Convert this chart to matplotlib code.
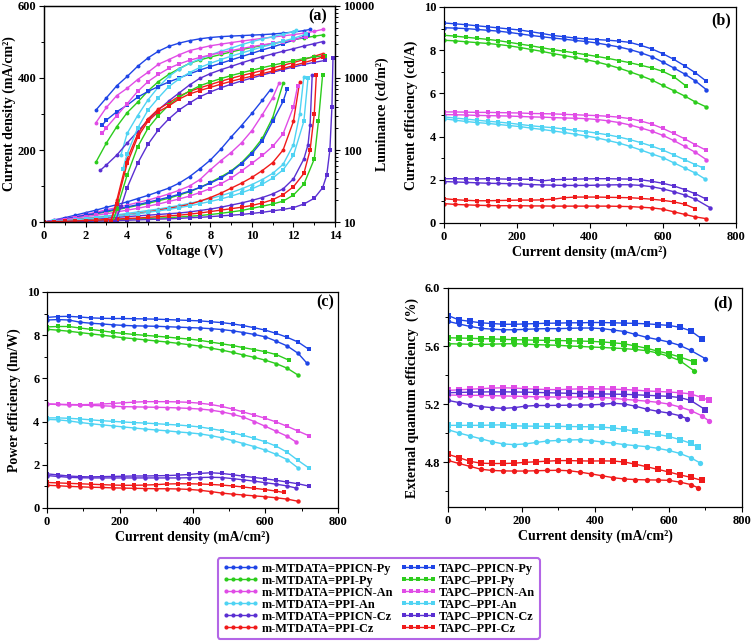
import matplotlib
matplotlib.use("Agg")
import matplotlib.pyplot as plt
from matplotlib.lines import Line2D
from matplotlib.ticker import MultipleLocator, NullFormatter, LogLocator

plt.rcParams['font.family'] = ['Liberation Serif', 'DejaVu Serif']
plt.rcParams['font.weight'] = 'bold'
plt.rcParams['axes.labelweight'] = 'bold'

# ---- series ----
SERIES = ["m-MTDATA=PPICN-Py", "m-MTDATA=PPI-Py", "m-MTDATA=PPICN-An",
          "m-MTDATA=PPI-An", "m-MTDATA=PPICN-Cz", "m-MTDATA=PPI-Cz",
          "TAPC\u2013PPICN-Py", "TAPC\u2013PPI-Py", "TAPC\u2013PPICN-An",
          "TAPC\u2013PPI-An", "TAPC\u2013PPICN-Cz", "TAPC\u2013PPI-Cz"]
COLORS = ['#1f45e6', '#2ccc1c', '#e04ce6', '#4fd3f3', '#5a2fd2', '#f01a1a'] * 2
MARKERS = ['o'] * 6 + ['s'] * 6

# ---- (a) J-V-L ----
VOLT = [0, 0.5, 1, 1.5, 2, 2.5, 3, 3.5, 4, 4.5, 5, 5.5, 6, 6.5, 7, 7.5, 8, 8.5,
        9, 9.5, 10, 10.5, 11, 11.5, 12, 12.5, 13, 13.5, 14]

J_V = [VOLT[:22] + [10.9], VOLT[:24], VOLT[:23] + [11.3], VOLT[:25] + [12.3, 12.5],
       VOLT[:26] + [12.7, 12.8, 12.9], VOLT[:25] + [12.3],
       VOLT[:24] + [11.7], VOLT[:27] + [13.2, 13.4], VOLT[:25] + [12.2],
       VOLT[:26] + [12.7], VOLT[:27] + [13.4, 13.6, 13.75, 13.85, 13.9],
       VOLT[:26] + [12.8, 13, 13.1]]
J_VAL = [
    [0, 6, 12, 19, 26, 33, 41, 48, 56, 65, 74, 84, 94, 108, 126, 148, 172, 202, 236, 268, 302, 338, 368],
    [0, 4, 8, 13, 18, 23, 28, 34, 40, 46, 52, 59, 66, 75, 84, 96, 110, 125, 142, 165, 195, 232, 290, 385],
    [0, 5, 10, 15, 21, 27, 34, 40, 47, 54, 61, 69, 78, 88, 100, 118, 145, 170, 193, 220, 254, 298, 345, 385],
    [0, 2, 5, 8, 11, 14, 17, 20, 24, 28, 32, 36, 41, 46, 52, 58, 65, 73, 82, 92, 104, 118, 135, 160, 215, 300, 404],
    [0, 1.5, 3, 5, 7, 9, 11, 13, 15, 17, 19, 21, 23, 25, 28, 32, 36, 41, 47, 53, 60, 68, 78, 92, 120, 175, 215, 270, 408],
    [0, 2, 4, 6, 9, 11, 14, 17, 20, 24, 28, 33, 38, 43, 49, 58, 68, 80, 94, 108, 124, 143, 165, 200, 280, 390],
    [0, 4, 9, 14, 19, 24, 30, 36, 42, 48, 55, 62, 69, 77, 86, 96, 108, 122, 140, 162, 190, 225, 280, 335, 370],
    [0, 1, 2, 3, 4, 5, 6, 7, 8, 9, 10, 11, 12, 14, 16, 18, 21, 24, 28, 32, 38, 44, 50, 58, 75, 105, 175, 280, 408],
    [0, 3, 7, 11, 15, 19, 23, 28, 33, 38, 44, 50, 57, 64, 72, 82, 93, 106, 122, 142, 163, 185, 210, 245, 320, 378],
    [0, 2, 4, 6, 9, 11, 14, 17, 20, 23, 27, 31, 35, 40, 45, 51, 57, 64, 72, 81, 92, 105, 122, 145, 185, 280, 401],
    [0, 0.5, 1, 1.5, 2, 2.5, 3, 4, 5, 6, 7, 8, 9, 10, 12, 13, 15, 17, 19, 21, 24, 27, 31, 35, 40, 50, 66, 95, 130, 200, 320, 455],
    [0, 1, 2, 3, 4, 5, 7, 8, 10, 11, 13, 15, 17, 19, 22, 25, 29, 33, 37, 41, 46, 53, 62, 76, 98, 135, 200, 300, 408],
]

L_V = [VOLT[5:26] + [12.8], VOLT[5:27] + [13.4], VOLT[5:27] + [13.4],
       [3.7] + VOLT[8:25] + [12.1], [2.7] + VOLT[6:27] + [13.4], [3.2] + VOLT[7:27] + [13.4],
       [2.8] + VOLT[6:26] + [12.7], [3.3] + VOLT[7:28], [2.8] + VOLT[6:25] + [12.6],
       [3.8] + VOLT[8:25] + [12.6], [3.4, 3.7] + VOLT[8:28], [3.2] + VOLT[7:27] + [13.4]]
L_VAL = [
    [359, 530, 780, 1050, 1450, 1900, 2350, 2750, 3050, 3300, 3500, 3650, 3750, 3820, 3880, 3940, 4000, 4080, 4200, 4350, 4550, 4730],
    [68, 125, 211, 330, 460, 660, 890, 1120, 1350, 1600, 1780, 1950, 2120, 2300, 2480, 2650, 2830, 3000, 3200, 3400, 3600, 3800, 3960],
    [240, 390, 570, 720, 950, 1200, 1550, 1800, 2100, 2400, 2600, 2800, 2950, 3100, 3250, 3400, 3550, 3700, 3850, 4000, 4200, 4450, 4730],
    [85, 170, 300, 495, 750, 1050, 1330, 1600, 1840, 2090, 2350, 2600, 2900, 3200, 3480, 3760, 4050, 4420, 4620],
    [52, 62, 85, 125, 180, 260, 360, 480, 620, 800, 990, 1150, 1300, 1450, 1620, 1800, 1980, 2160, 2350, 2550, 2780, 3000, 3200],
    [10, 20, 75, 165, 270, 370, 450, 560, 650, 730, 810, 900, 990, 1080, 1170, 1270, 1380, 1500, 1640, 1800, 2000, 2180],
    [221, 260, 340, 420, 540, 650, 760, 880, 1000, 1140, 1290, 1440, 1600, 1780, 1980, 2200, 2450, 2700, 3000, 3350, 3750, 3900],
    [10, 15, 45, 110, 200, 300, 420, 540, 660, 780, 880, 980, 1080, 1180, 1280, 1390, 1500, 1620, 1740, 1860, 1960, 2050],
    [170, 205, 300, 440, 650, 890, 1120, 1360, 1570, 1760, 1930, 2090, 2250, 2400, 2560, 2720, 2880, 3040, 3200, 3390, 3750],
    [55, 89, 200, 358, 530, 760, 970, 1190, 1400, 1600, 1800, 2010, 2220, 2450, 2700, 2950, 3250, 3550, 4070],
    [10, 16, 30, 65, 120, 190, 270, 360, 450, 550, 640, 730, 820, 910, 1000, 1100, 1200, 1310, 1420, 1540, 1650, 1750],
    [10, 18, 65, 150, 250, 340, 410, 510, 600, 670, 740, 820, 900, 980, 1060, 1150, 1250, 1360, 1490, 1630, 1800, 1960],
]

# ---- (b) (c) (d) vs current density ----
CD = [0, 30, 60, 90, 120, 150, 180, 210, 240, 270, 300, 330, 360, 390, 420, 450,
      480, 510, 540, 570, 600, 630, 660, 690, 720]

CE_END = [720, 720, 720, 715, 730, 720, 720, 665, 720, 710, 720, 690]
CE = [
    [9.04, 9.02, 9.0, 8.96, 8.92, 8.88, 8.82, 8.75, 8.68, 8.62, 8.56, 8.51, 8.45, 8.4, 8.33, 8.24, 8.15, 8.03, 7.88, 7.7, 7.45, 7.18, 6.9, 6.57, 6.17],
    [8.46, 8.43, 8.39, 8.35, 8.31, 8.26, 8.2, 8.12, 8.03, 7.94, 7.84, 7.75, 7.66, 7.56, 7.45, 7.32, 7.17, 7.0, 6.82, 6.62, 6.37, 6.13, 5.88, 5.6, 5.37],
    [5.02, 5.01, 5.0, 4.98, 4.97, 4.96, 4.95, 4.93, 4.91, 4.9, 4.88, 4.86, 4.85, 4.83, 4.79, 4.73, 4.65, 4.54, 4.4, 4.25, 4.06, 3.82, 3.55, 3.27, 2.93],
    [4.83, 4.76, 4.7, 4.65, 4.61, 4.56, 4.51, 4.46, 4.39, 4.33, 4.26, 4.19, 4.11, 4.03, 3.94, 3.82, 3.7, 3.55, 3.38, 3.2, 3.03, 2.79, 2.55, 2.31, 2.05],
    [1.92, 1.9, 1.88, 1.86, 1.84, 1.83, 1.82, 1.81, 1.78, 1.76, 1.75, 1.74, 1.74, 1.74, 1.75, 1.76, 1.77, 1.77, 1.74, 1.68, 1.58, 1.45, 1.3, 1.1, 0.71],
    [0.9, 0.86, 0.84, 0.82, 0.81, 0.8, 0.8, 0.8, 0.79, 0.79, 0.78, 0.78, 0.78, 0.78, 0.78, 0.78, 0.77, 0.76, 0.73, 0.7, 0.64, 0.52, 0.4, 0.28, 0.2],
    [9.26, 9.22, 9.18, 9.13, 9.08, 9.03, 8.98, 8.93, 8.85, 8.77, 8.68, 8.62, 8.56, 8.52, 8.49, 8.46, 8.42, 8.36, 8.22, 8.06, 7.84, 7.58, 7.28, 6.95, 6.56],
    [8.69, 8.65, 8.6, 8.55, 8.5, 8.44, 8.36, 8.28, 8.2, 8.11, 8.02, 7.95, 7.87, 7.79, 7.71, 7.62, 7.52, 7.42, 7.3, 7.18, 7.02, 6.78, 6.33],
    [5.14, 5.14, 5.13, 5.12, 5.12, 5.11, 5.1, 5.09, 5.07, 5.06, 5.05, 5.03, 5.01, 4.99, 4.97, 4.94, 4.9, 4.83, 4.72, 4.58, 4.38, 4.15, 3.9, 3.62, 3.36],
    [4.91, 4.86, 4.81, 4.76, 4.71, 4.67, 4.62, 4.56, 4.5, 4.45, 4.41, 4.35, 4.29, 4.23, 4.16, 4.08, 3.98, 3.86, 3.72, 3.56, 3.38, 3.16, 2.93, 2.7, 2.56],
    [2.05, 2.05, 2.04, 2.04, 2.05, 2.04, 2.03, 2.03, 2.02, 1.95, 2.0, 2.02, 2.03, 2.04, 2.05, 2.05, 2.04, 2.03, 2.0, 1.93, 1.84, 1.72, 1.55, 1.35, 1.10],
    [1.13, 1.08, 1.05, 1.03, 1.03, 1.04, 1.05, 1.06, 1.06, 1.07, 1.1, 1.17, 1.2, 1.2, 1.2, 1.19, 1.18, 1.17, 1.14, 1.1, 1.05, 0.98, 0.87, 0.66],
]

PE_END = [715, 690, 685, 690, 685, 690, 720, 665, 720, 720, 720, 650]
PE = [
    [8.7, 8.72, 8.7, 8.6, 8.55, 8.52, 8.48, 8.45, 8.43, 8.42, 8.41, 8.39, 8.37, 8.35, 8.33, 8.3, 8.26, 8.2, 8.12, 8.03, 7.92, 7.72, 7.5, 7.16, 6.69],
    [8.27, 8.23, 8.18, 8.12, 8.06, 8.0, 7.94, 7.88, 7.83, 7.78, 7.73, 7.68, 7.62, 7.56, 7.49, 7.4, 7.31, 7.2, 7.08, 6.97, 6.84, 6.68, 6.47, 6.15],
    [4.81, 4.79, 4.77, 4.76, 4.75, 4.73, 4.71, 4.69, 4.68, 4.67, 4.66, 4.65, 4.63, 4.61, 4.58, 4.53, 4.45, 4.34, 4.2, 4.0, 3.78, 3.55, 3.32, 3.05],
    [4.1, 4.08, 4.03, 3.96, 3.9, 3.85, 3.8, 3.75, 3.7, 3.65, 3.61, 3.57, 3.52, 3.48, 3.43, 3.35, 3.25, 3.12, 2.98, 2.84, 2.68, 2.48, 2.24, 1.85],
    [1.5, 1.46, 1.42, 1.4, 1.39, 1.39, 1.39, 1.39, 1.39, 1.39, 1.39, 1.39, 1.39, 1.4, 1.41, 1.42, 1.41, 1.36, 1.3, 1.24, 1.17, 1.1, 1.02, 0.92],
    [1.05, 1.03, 1.0, 0.98, 0.96, 0.95, 0.93, 0.92, 0.91, 0.9, 0.89, 0.89, 0.88, 0.86, 0.82, 0.76, 0.69, 0.64, 0.6, 0.56, 0.52, 0.47, 0.41, 0.31],
    [8.82, 8.86, 8.87, 8.84, 8.8, 8.78, 8.77, 8.77, 8.76, 8.75, 8.74, 8.72, 8.7, 8.68, 8.66, 8.62, 8.58, 8.52, 8.44, 8.34, 8.23, 8.08, 7.9, 7.68, 7.34],
    [8.38, 8.4, 8.4, 8.33, 8.27, 8.2, 8.13, 8.08, 8.03, 7.99, 7.95, 7.91, 7.86, 7.82, 7.76, 7.68, 7.6, 7.52, 7.42, 7.33, 7.23, 7.1, 6.84],
    [4.82, 4.8, 4.79, 4.78, 4.79, 4.81, 4.84, 4.87, 4.9, 4.92, 4.92, 4.92, 4.91, 4.89, 4.85, 4.79, 4.7, 4.58, 4.44, 4.3, 4.15, 3.98, 3.78, 3.56, 3.34],
    [4.17, 4.17, 4.15, 4.12, 4.08, 4.04, 4.01, 3.98, 3.95, 3.93, 3.9, 3.87, 3.84, 3.8, 3.75, 3.67, 3.58, 3.48, 3.36, 3.22, 3.06, 2.86, 2.58, 2.2, 1.85],
    [1.58, 1.53, 1.48, 1.45, 1.44, 1.45, 1.46, 1.47, 1.48, 1.48, 1.49, 1.5, 1.52, 1.55, 1.6, 1.63, 1.6, 1.54, 1.47, 1.41, 1.35, 1.28, 1.2, 1.12, 1.01],
    [1.18, 1.16, 1.14, 1.12, 1.1, 1.08, 1.06, 1.05, 1.05, 1.06, 1.08, 1.11, 1.12, 1.12, 1.11, 1.09, 1.06, 1.02, 0.97, 0.91, 0.85, 0.78, 0.72],
]

EQE_END = [700, 670, 710, 685, 650, 680, 690, 670, 710, 680, 700, 690]
EQE = [
    [5.77, 5.752, 5.735, 5.722, 5.716, 5.712, 5.712, 5.715, 5.718, 5.72, 5.72, 5.722, 5.724, 5.724, 5.72, 5.71, 5.7, 5.68, 5.66, 5.645, 5.628, 5.605, 5.57, 5.513],
    [5.616, 5.614, 5.612, 5.611, 5.613, 5.615, 5.616, 5.613, 5.61, 5.607, 5.605, 5.6, 5.597, 5.593, 5.59, 5.586, 5.582, 5.576, 5.568, 5.552, 5.53, 5.5, 5.428],
    [5.262, 5.261, 5.26, 5.26, 5.258, 5.256, 5.254, 5.252, 5.25, 5.249, 5.248, 5.248, 5.248, 5.248, 5.245, 5.24, 5.232, 5.226, 5.22, 5.212, 5.2, 5.18, 5.155, 5.12, 5.083],
    [5.023, 5.0, 4.98, 4.96, 4.94, 4.925, 4.92, 4.925, 4.935, 4.945, 4.949, 4.952, 4.954, 4.948, 4.938, 4.93, 4.92, 4.913, 4.906, 4.895, 4.88, 4.86, 4.83, 4.795],
    [5.225, 5.21, 5.195, 5.182, 5.175, 5.17, 5.175, 5.185, 5.19, 5.19, 5.191, 5.192, 5.193, 5.194, 5.198, 5.205, 5.2, 5.185, 5.165, 5.15, 5.138, 5.12, 5.099],
    [4.811, 4.79, 4.77, 4.75, 4.742, 4.739, 4.738, 4.738, 4.74, 4.742, 4.743, 4.74, 4.73, 4.718, 4.705, 4.692, 4.683, 4.679, 4.677, 4.676, 4.674, 4.662, 4.645, 4.623],
    [5.81, 5.78, 5.77, 5.76, 5.755, 5.75, 5.75, 5.752, 5.755, 5.757, 5.758, 5.76, 5.76, 5.762, 5.762, 5.76, 5.758, 5.756, 5.753, 5.748, 5.742, 5.73, 5.705, 5.65],
    [5.657, 5.655, 5.653, 5.651, 5.649, 5.646, 5.644, 5.642, 5.64, 5.639, 5.638, 5.636, 5.634, 5.632, 5.628, 5.622, 5.615, 5.6, 5.585, 5.565, 5.547, 5.525, 5.49],
    [5.294, 5.298, 5.302, 5.306, 5.31, 5.312, 5.31, 5.306, 5.302, 5.3, 5.299, 5.302, 5.305, 5.306, 5.304, 5.302, 5.3, 5.296, 5.29, 5.287, 5.283, 5.278, 5.27, 5.245, 5.225],
    [5.053, 5.053, 5.053, 5.053, 5.055, 5.057, 5.05, 5.048, 5.047, 5.046, 5.046, 5.045, 5.044, 5.043, 5.04, 5.035, 5.025, 5.012, 5.0, 4.99, 4.977, 4.955, 4.93, 4.903],
    [5.278, 5.28, 5.282, 5.283, 5.284, 5.284, 5.283, 5.282, 5.28, 5.278, 5.276, 5.274, 5.272, 5.271, 5.27, 5.268, 5.267, 5.264, 5.26, 5.257, 5.253, 5.245, 5.225, 5.161],
    [4.853, 4.83, 4.805, 4.792, 4.79, 4.79, 4.792, 4.798, 4.802, 4.806, 4.81, 4.81, 4.808, 4.807, 4.808, 4.807, 4.8, 4.785, 4.768, 4.75, 4.732, 4.712, 4.695, 4.674],
]

LABEL_FS = 10
TICK_FS = 9


def style(ax):
    ax.tick_params(which='major', direction='out', length=3.5, width=0.8, labelsize=TICK_FS, pad=2)
    ax.tick_params(which='minor', direction='out', length=2, width=0.7)
    for s in ax.spines.values():
        s.set_linewidth(0.9)


def cd_panel(ax, data, ends, ms):
    for i, vals in enumerate(data):
        x = CD[:len(vals) - 1] + [ends[i]]
        ax.plot(x, vals, color=COLORS[i], marker=MARKERS[i], ms=ms, lw=1.0,
                markeredgewidth=0)
    ax.set_xlim(0, 800)
    ax.xaxis.set_major_locator(MultipleLocator(200))
    ax.xaxis.set_minor_locator(MultipleLocator(100))
    ax.set_xlabel('Current density (mA/cm\u00b2)', fontsize=LABEL_FS, labelpad=2)
    style(ax)


fig = plt.figure(figsize=(7.56, 6.43), dpi=100)

# (a)
ax_a = fig.add_axes([0.0582, 0.6547, 0.385, 0.336])
ax_l = ax_a.twinx()
for i in range(12):
    ax_a.plot(J_V[i], J_VAL[i], color=COLORS[i], marker=MARKERS[i], ms=2.8, lw=1.0,
              markeredgewidth=0)
    ax_l.plot(L_V[i], L_VAL[i], color=COLORS[i], marker=MARKERS[i], ms=2.8, lw=1.0,
              markeredgewidth=0)
ax_a.set_xlim(0, 14)
ax_a.set_ylim(0, 600)
ax_a.xaxis.set_major_locator(MultipleLocator(2))
ax_a.xaxis.set_minor_locator(MultipleLocator(1))
ax_a.yaxis.set_major_locator(MultipleLocator(200))
ax_a.yaxis.set_minor_locator(MultipleLocator(100))
ax_a.set_xlabel('Voltage (V)', fontsize=LABEL_FS, labelpad=2)
ax_a.set_ylabel('Current density (mA/cm\u00b2)', fontsize=LABEL_FS, labelpad=1)
ax_l.set_yscale('log')
ax_l.set_ylim(10, 10000)
ax_l.set_yticks([10, 100, 1000, 10000])
ax_l.set_yticklabels(['10', '100', '1000', '10000'])
ax_l.yaxis.set_minor_locator(LogLocator(base=10, subs=range(2, 10)))
ax_l.yaxis.set_minor_formatter(NullFormatter())
ax_l.set_ylabel('Luminance (cd/m\u00b2)', fontsize=LABEL_FS, labelpad=1)
style(ax_a)
style(ax_l)
ax_a.text(0.94, 0.95, '(a)', transform=ax_a.transAxes, ha='center', va='center', fontsize=11.5)

# (b)
ax_b = fig.add_axes([0.587, 0.6532, 0.386, 0.336])
cd_panel(ax_b, CE, CE_END, 3.2)
ax_b.set_ylim(0, 10)
ax_b.yaxis.set_major_locator(MultipleLocator(2))
ax_b.yaxis.set_minor_locator(MultipleLocator(1))
ax_b.set_ylabel('Current efficiency (cd/A)', fontsize=LABEL_FS, labelpad=4)
ax_b.text(0.951, 0.94, '(b)', transform=ax_b.transAxes, ha='center', va='center', fontsize=11.5)

# (c)
ax_c = fig.add_axes([0.0622, 0.21, 0.385, 0.336])
cd_panel(ax_c, PE, PE_END, 3.2)
ax_c.set_ylim(0, 10)
ax_c.yaxis.set_major_locator(MultipleLocator(2))
ax_c.yaxis.set_minor_locator(MultipleLocator(1))
ax_c.set_ylabel('Power efficiency (lm/W)', fontsize=LABEL_FS, labelpad=4)
ax_c.text(0.955, 0.95, '(c)', transform=ax_c.transAxes, ha='center', va='center', fontsize=11.5)

# (d)
ax_d = fig.add_axes([0.5926, 0.2115, 0.389, 0.3406])
cd_panel(ax_d, EQE, EQE_END, 3.8)
ax_d.set_ylim(4.49, 6.0)
ax_d.yaxis.set_major_locator(MultipleLocator(0.4))
ax_d.yaxis.set_minor_locator(MultipleLocator(0.2))
ax_d.yaxis.set_major_formatter(plt.FormatStrFormatter('%.1f'))
ax_d.set_ylabel('External quantum efficiency  (%)', fontsize=LABEL_FS, labelpad=4)
ax_d.text(0.935, 0.93, '(d)', transform=ax_d.transAxes, ha='center', va='center', fontsize=11.5)

# legend
handles = [Line2D([], [], color=COLORS[i], marker=MARKERS[i], ms=3, lw=1.0,
                  markeredgewidth=0) for i in range(12)]
leg = fig.legend(handles, SERIES, ncol=2, loc='center', bbox_to_anchor=(0.501, 0.069),
                 numpoints=5, handlelength=3.0, handletextpad=0.2, columnspacing=0.6,
                 labelspacing=0.0, fontsize=8.8, frameon=True, fancybox=True,
                 borderpad=0.35)
leg.get_frame().set_edgecolor('#a040e0')
leg.get_frame().set_linewidth(1.5)

fig.savefig('out.png', dpi=100)
